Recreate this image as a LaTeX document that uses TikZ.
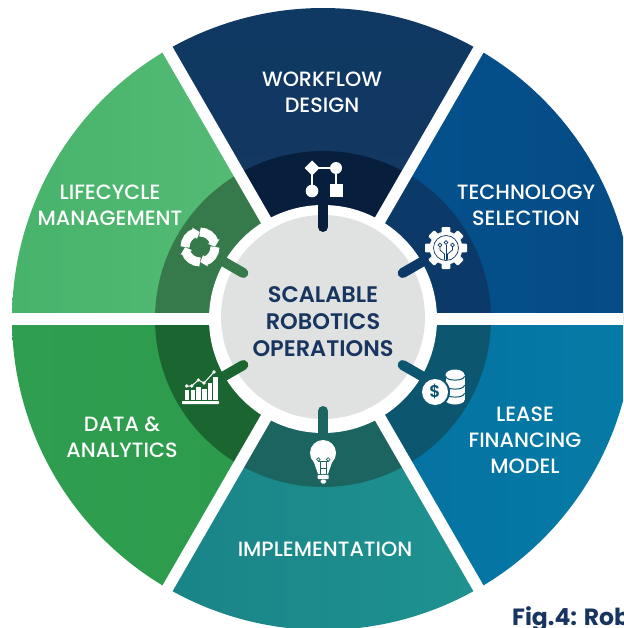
\documentclass[tikz,border=0pt]{standalone}
\usepackage{fontspec}
\usetikzlibrary{calc}
\setmainfont{Poppins}[UprightFont=*-Medium,BoldFont=*-SemiBold]
\newfontfamily\capfont{Poppins}[UprightFont=*-Bold]
\definecolor{navy}{HTML}{17355E}
\definecolor{hubgray}{HTML}{E0E1E1}
\definecolor{wfA}{HTML}{0E3963}\definecolor{wfB}{HTML}{17375F}\definecolor{wfD}{HTML}{071F3D}
\definecolor{teA}{HTML}{02538F}\definecolor{teB}{HTML}{064B85}\definecolor{teD}{HTML}{0C3A68}
\definecolor{leA}{HTML}{0470A0}\definecolor{leB}{HTML}{067BA6}\definecolor{leD}{HTML}{0D5670}
\definecolor{imA}{HTML}{1E9290}\definecolor{imB}{HTML}{1A8488}\definecolor{imD}{HTML}{1C6460}
\definecolor{daA}{HTML}{2F9E50}\definecolor{daB}{HTML}{2C9A4A}\definecolor{daD}{HTML}{1A6530}
\definecolor{liA}{HTML}{58BD78}\definecolor{liB}{HTML}{47B36B}\definecolor{liD}{HTML}{367A4C}
\tikzset{
  x=1pt,y=-1pt,
  lbl/.style={text=white,font=\fontsize{20.7}{26}\selectfont,align=center,inner sep=0pt},
  hubtext/.style={text=navy,font=\fontsize{22.5}{27}\selectfont\bfseries,align=center,inner sep=0pt},
  spoke/.style={draw=white,line width=11.5pt},
  peg/.style={line width=10pt,line cap=round},
  hair/.style={line width=0.7pt},
}
\newcommand\outersect[3]{%
  \shade[#3] (323,319) -- ++(#1:311) arc[start angle=#1,end angle=#2,radius=311] -- cycle;}
\newcommand\innersect[3]{%
  \fill[#3] (323,319) -- ++(#1:168) arc[start angle=#1,end angle=#2,radius=168] -- cycle;}
\begin{document}
\begin{tikzpicture}
\useasboundingbox (0,0) rectangle (623,628);
\clip (0,0) rectangle (623,628);
\fill[white] (0,0) rectangle (623,628);
% outer sectors
\outersect{240}{300}{bottom color=wfB,top color=wfA}
\outersect{300}{360}{left color=teA,right color=teB}
\outersect{0}{60}{left color=leA,right color=leB}
\outersect{60}{120}{left color=imB,right color=imA}
\outersect{120}{180}{left color=daA,right color=daB}
\outersect{180}{240}{right color=liA,left color=liB}
% inner dark band
\innersect{240}{300}{wfD}
\innersect{300}{360}{teD}
\innersect{0}{60}{leD}
\innersect{60}{120}{imD}
\innersect{120}{180}{daD}
\innersect{180}{240}{liD}
% white separators
\coordinate (c) at (323,319);
\foreach \a in {0,60,...,300}{\draw[spoke] (c) -- ++(\a:330);}
% hub
\fill[white] (c) circle (114);
\node[circle,fill=hubgray,minimum size=204pt,inner sep=0pt] (hub) at (323,317) {};
% connectors
\foreach \a/\col in {270/wfD,330/teD,30/leD,90/imD,150/daD,210/liD}{
  \draw[peg,\col] ($(c)+(\a:118)$) -- ($(c)+(\a:92)$);}
% labels
\node[hubtext] at (323,322) {SCALABLE\\ROBOTICS\\OPERATIONS};
\node[lbl] at (322,92) {WORKFLOW\\DESIGN};
\node[lbl] at (526,205) {TECHNOLOGY\\SELECTION};
\node[lbl] at (525,440) {LEASE\\FINANCING\\MODEL};
\node[lbl] at (325,549) {IMPLEMENTATION};
\node[lbl] at (122,437) {DATA \&\\ANALYTICS};
\node[lbl] at (110,205) {LIFECYCLE\\MANAGEMENT};
\node[anchor=base west,inner sep=0pt,text=navy,font=\capfont\fontsize{23.5}{24}\selectfont] at (512,625) {Fig.4: Rob};
% workflow icon
\begin{scope}[white]
\draw[line width=1.6pt,rounded corners=3pt] (312,191) -- (312,168) -- (336,168) -- (336,191);
\fill (304.5,168) -- (312,160.5) -- (319.5,168) -- (312,175.5) -- cycle;
\fill (336,168) circle (6);
\fill (312,191) circle (6.3);
\fill (329.5,184.5) rectangle (342.5,197.5);
\end{scope}
% gear icon
\begin{scope}[shift={(446,248)}]
\fill[white] (0,0) circle (16.5);
\foreach \a in {0,45,...,315}{\fill[white,rotate=\a,rounded corners=1pt] (-4.3,-10) rectangle (4.3,-21);}
\draw[teD,hair] (0,0) circle (12.5);
\draw[teD,hair] (0,12) -- (0,-3.5);
\draw[teD,hair] (-1.5,11.5) -- (-1.5,6) -- (-6,2) -- (-6,-1);
\draw[teD,hair] (1.5,11.5) -- (1.5,6) -- (6.5,2) -- (6.5,-1);
\draw[teD,hair] (-6,-3) circle (1.8);
\draw[teD,hair] (0,-5.5) circle (1.8);
\draw[teD,hair] (6.5,-3) circle (1.8);
\end{scope}
% lifecycle icon
\begin{scope}[shift={(200,247)}]
\foreach \a in {0,90,180,270}{
  \draw[white,line width=9pt] (\a:15) arc[start angle=\a,end angle=\a+72,radius=15];
  \fill[white] (\a+68:8.5) -- (\a+68:21) -- (\a+89:15) -- cycle;}
\end{scope}
% chart icon
\begin{scope}[white]
\fill[rounded corners=0.7pt] (182,401) rectangle (219,404);
\foreach \xa/\xb/\yt in {184.5/189/390,190.5/195/390,196/200.5/386.5,202/206.5/388.5,207.5/212/382.5,213/217.5/376.5}{
  \fill (\xa,\yt) rectangle (\xb,400);}
\draw[line width=1pt] (186.7,386) -- (191.7,386) -- (198.3,380) -- (204,383) -- (214,372);
\foreach \p in {(186.7,386),(191.7,386),(198.3,380),(204,383),(214,372)}{\fill \p circle (1.8);}
\end{scope}
% coins icon
\begin{scope}[white]
\fill (455,375) ellipse (9.5 and 5.5);
\fill (445.5,375) rectangle (464.5,400);
\fill (455,400) ellipse (9.5 and 4.5);
\foreach \y in {376,385,393}{\draw[leD,line width=1pt] (445.5,\y) .. controls (445.5,\y+5.5) and (464.5,\y+5.5) .. (464.5,\y);}
\fill[leD] (435,392) circle (15);
\fill (435,392) circle (13);
\node[text=leD,font=\fontsize{17}{17}\selectfont\bfseries,inner sep=0pt] at (435,392) {\$};
\end{scope}
% bulb icon
\begin{scope}[white]
\fill (323,453) circle (13);
\fill (313.5,461) -- (332.5,461) -- (328,474) -- (318,474) -- cycle;
\fill[rounded corners=0.6pt] (317.7,475) rectangle (328.7,479);
\fill[rounded corners=1.5pt] (320.5,479.5) rectangle (326,483.5);
\draw[imD,hair] (320,474) -- (320,460.5) (326.5,474) -- (326.5,460.5) (318,461.5) -- (328.5,461.5) (320,468) -- (326.5,468);
\draw[imD,hair] (318.3,459.5) circle (1.8) (328.2,459.5) circle (1.8);
\end{scope}
\end{tikzpicture}
\end{document}
